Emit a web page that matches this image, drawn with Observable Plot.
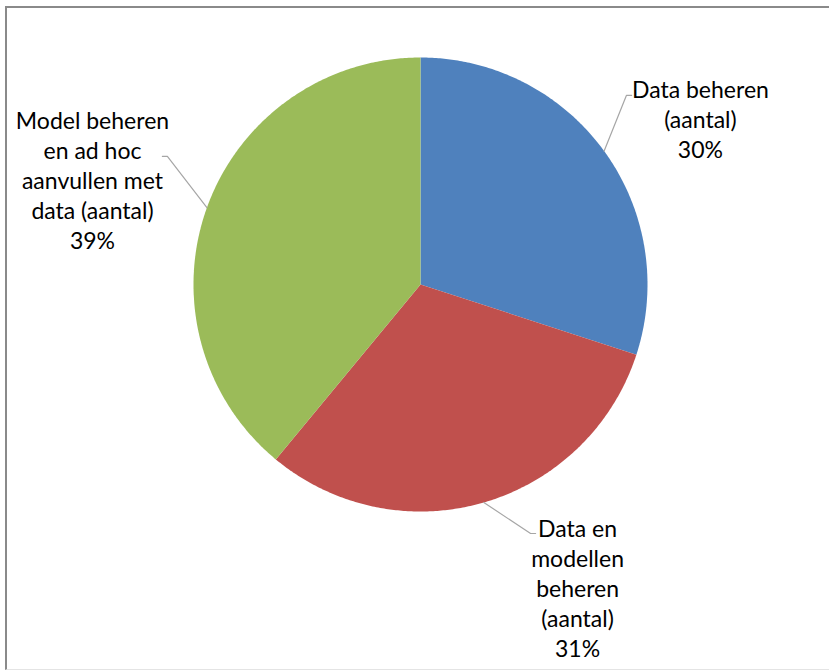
<!DOCTYPE html>
<html>
<head>
<meta charset="utf-8">
<script src="https://cdn.jsdelivr.net/npm/d3@7"></script>
<script src="https://cdn.jsdelivr.net/npm/@observablehq/plot@0.6"></script>
<style>
  html, body { margin: 0; padding: 0; background: #fff; }
  #wrap { position: relative; width: 829px; height: 670px; overflow: hidden; }
  #frame { position: absolute; left: 5px; top: 6px; width: 840px; height: 661px;
           border-left: 2px solid #8a8a8a; border-top: 2px solid #8a8a8a; border-bottom: 1px solid #e4e4e4; }
  #chart { position: absolute; left: 0; top: 0; }
</style>
</head>
<body>
<div id="wrap"><div id="frame"></div><div id="chart"></div></div>
<script>
// ---- data ----
const categories = ["Data beheren (aantal)", "Data en modellen beheren (aantal)", "Model beheren en ad hoc aanvullen met data (aantal)"];
const labelTexts = ["Data beheren\n(aantal)", "Data en\nmodellen\nbeheren\n(aantal)", "Model beheren\nen ad hoc\naanvullen met\ndata (aantal)"];
const values = [30, 31, 39];
const colors = ["#4F81BD", "#C0504D", "#9BBB59"];

// ---- layout constants (in pie-radius units) ----
const W = 829, H = 670, R = 227, CX = 420, CY = 284;
const labelPos = [[1.233, 0.732], [0.692, -1.335], [-1.445, 0.463]];
const elbow = [[0.907, 0.833, 0.930], [0.485, -1.097, 0.507], [-1.115, 0.564, -1.137]];

const pie = d3.pie().sort(null).value(d => d)(values);
const total = d3.sum(values);

// slice polygons from pie angles (clockwise from north, y up)
const slicePts = [];
pie.forEach((p, i) => {
  slicePts.push({cat: categories[i], x: 0, y: 0});
  const n = Math.max(2, Math.ceil((p.endAngle - p.startAngle) / (Math.PI / 360)));
  for (let k = 0; k <= n; k++) {
    const a = p.startAngle + (p.endAngle - p.startAngle) * k / n;
    slicePts.push({cat: categories[i], x: Math.sin(a), y: Math.cos(a)});
  }
});

// leader lines: from slice edge at mid-angle to elbow, then short horizontal
const leaders = [];
pie.forEach((p, i) => {
  const a = (p.startAngle + p.endAngle) / 2;
  leaders.push({cat: categories[i], x: Math.sin(a), y: Math.cos(a)});
  leaders.push({cat: categories[i], x: elbow[i][0], y: elbow[i][1]});
  leaders.push({cat: categories[i], x: elbow[i][2], y: elbow[i][1]});
});

const labels = pie.map((p, i) => ({
  cat: categories[i],
  x: labelPos[i][0], y: labelPos[i][1],
  text: labelTexts[i] + "\n" + Math.round(100 * values[i] / total) + "%"
}));

const chart = Plot.plot({
  width: W, height: H,
  margin: 0,
  x: {domain: [-CX / R, (W - CX) / R], range: [0, W], axis: null},
  y: {domain: [CY / R, -(H - CY) / R], range: [0, H], axis: null},
  color: {domain: categories, range: colors},
  style: {fontFamily: "Lato, 'Open Sans', sans-serif", background: "transparent"},
  marks: [
    Plot.line(slicePts, {x: "x", y: "y", z: "cat", fill: "cat", stroke: "none"}),
    Plot.line(leaders, {x: "x", y: "y", z: "cat", stroke: "#a6a6a6", strokeWidth: 1.2}),
    Plot.text(labels, {x: "x", y: "y", text: "text", fontSize: 23, lineHeight: 1.3,
                       textAnchor: "middle", lineAnchor: "middle", fill: "#000"})
  ]
});
document.getElementById("chart").appendChild(chart);
</script>
</body>
</html>
